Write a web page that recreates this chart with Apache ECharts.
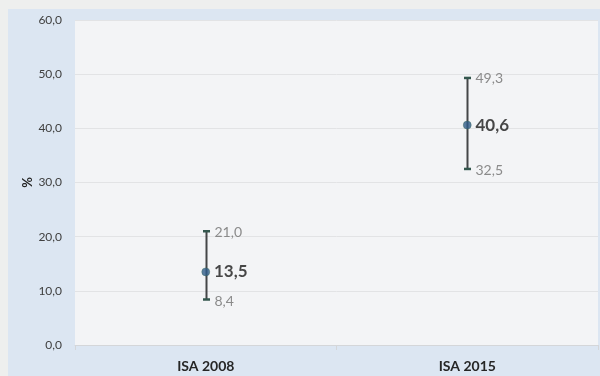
<!DOCTYPE html>
<html>
<head>
<meta charset="utf-8">
<script src="https://cdn.jsdelivr.net/npm/echarts@6/dist/echarts.min.js"></script>
<style>
  html, body { margin: 0; padding: 0; background: #eeefee; }
  #chart { width: 600px; height: 376px; }
</style>
</head>
<body>
<div id="chart"></div>
<script>
// Survey estimates with confidence bounds (%)
var categories = ['ISA 2008', 'ISA 2015'];
var meanValues = [13.5, 40.6];
var lowerValues = [8.4, 32.5];
var upperValues = [21.0, 49.3];
var yTicks = [0, 10, 20, 30, 40, 50, 60];

function fmt(v) { return v.toFixed(1).replace('.', ','); }

var FONT = 'Lato, "Open Sans", sans-serif';

var chart = echarts.init(document.getElementById('chart'), null, { renderer: 'canvas' });

var errorData = categories.map(function (c, i) { return [i, lowerValues[i], upperValues[i]]; });

chart.setOption({
  backgroundColor: '#eeefee',
  animation: false,
  graphic: [{
    type: 'rect', z: -10, silent: true,
    shape: { x: 8, y: 9, width: 600, height: 380 },
    style: { fill: '#dce6f2' }
  }],
  grid: {
    left: 75, right: 2, top: 20, bottom: 31,
    show: true, backgroundColor: '#f3f4f6', borderWidth: 0
  },
  xAxis: {
    type: 'category',
    data: categories,
    boundaryGap: true,
    axisLine: { lineStyle: { color: '#d4d6d9', width: 1 } },
    axisTick: { show: true, length: 5, lineStyle: { color: '#d4d6d9' } },
    axisLabel: { color: '#262626', fontFamily: FONT, fontWeight: 'bold', fontSize: 14, margin: 14 }
  },
  yAxis: {
    type: 'value',
    min: yTicks[0], max: yTicks[yTicks.length - 1], interval: 10,
    name: '%',
    nameLocation: 'middle',
    nameGap: 41,
    nameRotate: 90,
    nameMoveOverlap: false,
    nameTextStyle: { color: '#262626', fontFamily: FONT, fontWeight: 'bold', fontSize: 13 },
    axisLine: { show: false },
    axisTick: { show: false },
    axisLabel: {
      color: '#404040', fontFamily: FONT, fontSize: 12, margin: 13,
      formatter: function (v) { return fmt(v); }
    },
    splitLine: { lineStyle: { color: '#e2e3e5', width: 1 } }
  },
  series: [
    {
      type: 'custom',
      name: 'interval',
      data: errorData,
      z: 3,
      renderItem: function (params, api) {
        var x = api.value(0);
        var lo = api.coord([x, api.value(1)]);
        var hi = api.coord([x, api.value(2)]);
        var cx = Math.round(lo[0]) + 0.5;
        var half = 3.5;
        return {
          type: 'group',
          children: [
            { type: 'line', shape: { x1: cx, y1: hi[1], x2: cx, y2: lo[1] },
              style: { stroke: '#444648', lineWidth: 2 } },
            { type: 'line', shape: { x1: cx - half, y1: hi[1], x2: cx + half, y2: hi[1] },
              style: { stroke: '#34574e', lineWidth: 2.5 } },
            { type: 'line', shape: { x1: cx - half, y1: lo[1], x2: cx + half, y2: lo[1] },
              style: { stroke: '#34574e', lineWidth: 2.5 } },
            { type: 'text', x: cx + 8, y: hi[1] + 1,
              style: { text: fmt(api.value(2)), fill: '#8a8a8a', font: '14px ' + FONT,
                       textAlign: 'left', textVerticalAlign: 'middle' } },
            { type: 'text', x: cx + 8, y: lo[1] + 2,
              style: { text: fmt(api.value(1)), fill: '#8a8a8a', font: '14px ' + FONT,
                       textAlign: 'left', textVerticalAlign: 'middle' } }
          ]
        };
      }
    },
    {
      type: 'scatter',
      name: 'mean',
      data: meanValues,
      z: 4,
      symbol: 'circle',
      symbolSize: 8,
      itemStyle: { color: '#2f5c8a', borderColor: '#3c6b5a', borderWidth: 0.5 },
      label: {
        show: true, position: 'right', distance: 4,
        color: '#1a1a1a', fontFamily: FONT, fontWeight: 'bold', fontSize: 17,
        formatter: function (p) { return fmt(p.value); }
      }
    }
  ]
});
</script>
</body>
</html>
